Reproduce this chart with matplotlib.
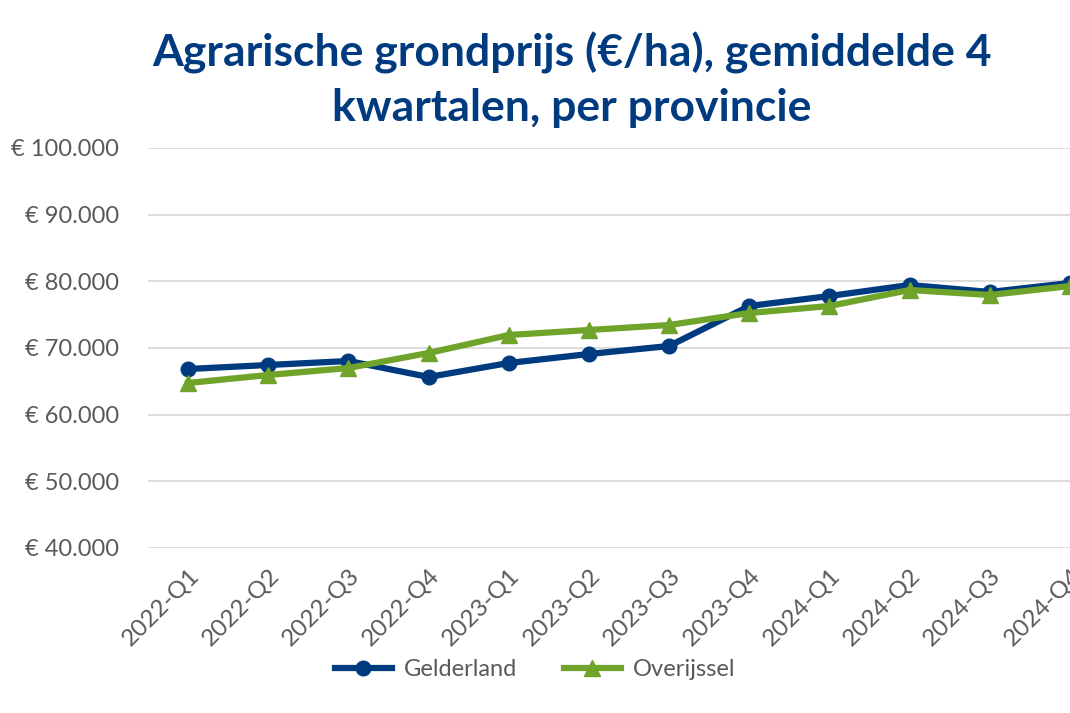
import matplotlib
matplotlib.use("Agg")
import matplotlib.pyplot as plt
from matplotlib.ticker import FuncFormatter

quarters = ["2022-Q1", "2022-Q2", "2022-Q3", "2022-Q4",
            "2023-Q1", "2023-Q2", "2023-Q3", "2023-Q4",
            "2024-Q1", "2024-Q2", "2024-Q3", "2024-Q4"]
gelderland = [66850, 67450, 68050, 65650, 67750, 69100, 70300, 76300,
              77800, 79450, 78400, 79750]
overijssel = [64750, 65950, 67000, 69250, 71950, 72700, 73450, 75250,
              76300, 78700, 77950, 79300]
yticks = [40000, 50000, 60000, 70000, 80000, 90000, 100000]

plt.rcParams['font.family'] = ['Lato', 'DejaVu Sans']

W, H = 1070, 713
fig = plt.figure(figsize=(W / 100, H / 100), dpi=100)
left, right, top, bottom = 148, 1070, 148, 548
ax = fig.add_axes([left / W, 1 - bottom / H, (right - left) / W, (bottom - top) / H])

blue = "#003A7F"
green = "#6FA32A"
x = list(range(len(quarters)))
ax.plot(x, gelderland, color=blue, lw=4.5, marker="o", ms=10.5, label="Gelderland",
        solid_joinstyle="round", zorder=3, clip_on=False)
ax.plot(x, overijssel, color=green, lw=4.5, marker="^", ms=11, label="Overijssel",
        solid_joinstyle="round", zorder=4, clip_on=False)

ax.set_xlim(-0.5, 11)
ax.set_ylim(40000, 100000)
ax.set_yticks(yticks)
ax.yaxis.set_major_formatter(FuncFormatter(lambda v, p: "€ " + f"{int(v):,}".replace(",", ".")))
ax.set_xticks(x)
ax.set_xticklabels(quarters, rotation=45, ha="right", rotation_mode="anchor")
ax.tick_params(axis="y", length=0, labelsize=17, labelcolor="#595959", pad=21)
ax.tick_params(axis="x", length=0, labelsize=17.5, labelcolor="#595959", pad=12)
ax.grid(axis="y", color="#D9D9D9", lw=1.3)
ax.set_axisbelow(True)
for s in ax.spines.values():
    s.set_visible(False)

fig.text(572 / W, 1 - 80 / H, "Agrarische grondprijs (€/ha), gemiddelde 4\nkwartalen, per provincie",
         ha="center", va="center", fontsize=32, fontweight="bold", color="#003A7F",
         linespacing=1.4)

leg = fig.legend(loc="center", bbox_to_anchor=(535 / W, 1 - 670 / H), ncol=2, frameon=False,
                 fontsize=17, labelcolor="#595959", handlelength=2.4, columnspacing=2.0,
                 handletextpad=0.5)

fig.savefig("out.png", dpi=100)
